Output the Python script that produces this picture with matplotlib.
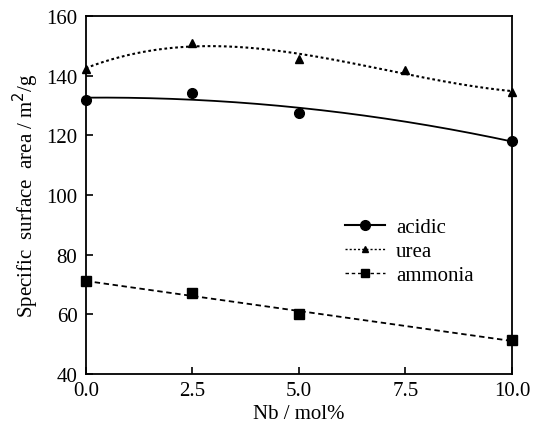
import numpy as np
import matplotlib.pyplot as plt

plt.rcParams['font.family'] = ['Liberation Serif', 'DejaVu Serif']

nb_acidic = [0.0, 2.5, 5.0, 10.0]
sa_acidic = [131.8, 134.1, 127.6, 118.2]

nb_urea = [0.0, 2.5, 5.0, 7.5, 10.0]
sa_urea = [142.2, 151.0, 145.5, 141.8, 134.5]

nb_ammonia = [0.0, 2.5, 5.0, 10.0]
sa_ammonia = [71.1, 67.0, 60.0, 51.4]

fig = plt.figure(figsize=(5.36, 4.35), dpi=100)
ax = fig.add_axes([0.160, 0.138, 0.795, 0.823])

xs = np.linspace(0, 10, 200)

# fitted trend curves
fit_a = np.polyfit(nb_acidic, sa_acidic, 2)
fit_u = np.polyfit(nb_urea, sa_urea, 3)
fit_n = np.polyfit(nb_ammonia, sa_ammonia, 1)

ax.plot(xs, np.polyval(fit_a, xs), color='black', lw=1.3, ls='-')
ax.plot(xs, np.polyval(fit_u, xs), color='black', lw=1.5, ls=(0, (1.3, 1.3)))
ax.plot(xs, np.polyval(fit_n, xs), color='black', lw=1.3, ls=(0, (3, 2)))

ax.plot(nb_acidic, sa_acidic, 'o', color='black', ms=7, clip_on=False)
ax.plot(nb_urea, sa_urea, '^', color='black', ms=6, clip_on=False)
ax.plot(nb_ammonia, sa_ammonia, 's', color='black', ms=7, clip_on=False)

# legend proxies
h1, = ax.plot([], [], '-o', color='black', lw=1.5, ms=7)
h2, = ax.plot([], [], '^', ls=(0, (1.5, 1.5)), color='black', lw=1.0, ms=5)
h3, = ax.plot([], [], 's', ls=(0, (2.5, 2)), color='black', lw=1.0, ms=6)
ax.legend([h1, h2, h3], ['acidic', 'urea', 'ammonia'], frameon=False,
          fontsize=15, loc='upper left', bbox_to_anchor=(0.608, 0.437),
          handlelength=1.95, handletextpad=0.5, labelspacing=0.22,
          borderaxespad=0, borderpad=0)

ax.set_xlim(0, 10)
ax.set_ylim(40, 160)
ax.set_xticks([0, 2.5, 5, 7.5, 10])
ax.set_xticklabels(['0.0', '2.5', '5.0', '7.5', '10.0'])
ax.set_yticks(range(40, 161, 20))
ax.tick_params(direction='in', labelsize=15, length=5, width=1.2)
ax.tick_params(axis='x', pad=5)
ax.tick_params(axis='y', pad=6)
for s in ax.spines.values():
    s.set_linewidth(1.3)

ax.set_xlabel('Nb / mol%', fontsize=15, labelpad=3)
ax.set_ylabel('Specific  surface  area / m$^2$/g', fontsize=15, labelpad=4)

fig.savefig('out.png', dpi=100)
